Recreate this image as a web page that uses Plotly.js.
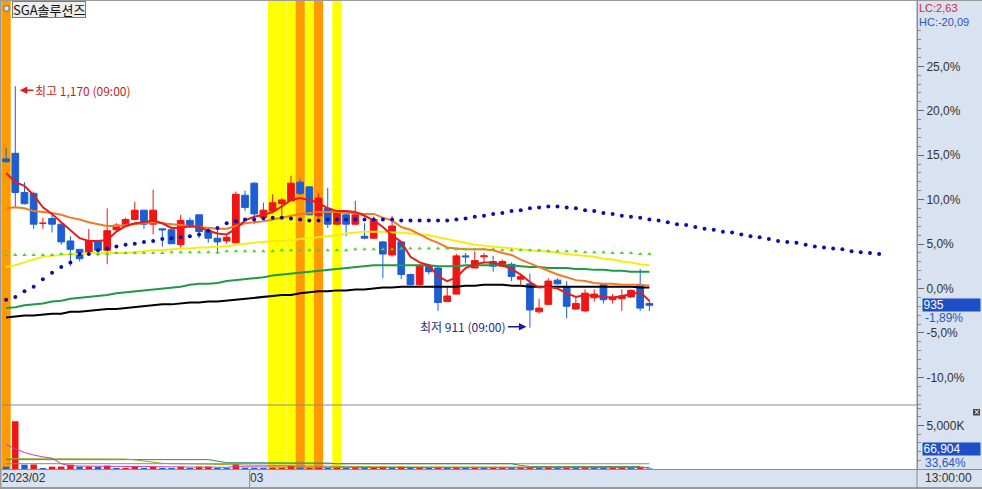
<!DOCTYPE html>
<html><head><meta charset="utf-8">
<script src="https://cdn.plot.ly/plotly-3.0.1.min.js"></script>
<style>html,body{margin:0;padding:0;background:#d8e2f0;}#chart{width:982px;height:489px;}</style>
</head><body><div id="chart"></div>
<script>
// ---------------- data ----------------
const stockName = 'SGA솔루션즈';
const baseClose = 953;            // previous close (0,0% reference)
const hiTime = '09:00', loTime = '09:00', lastTime = '13:00:00';
const xTickLabels = ['2023/02', '03'];
const monthBreakIdx = 26.5;       // boundary between Feb and Mar candles
const volRatioPct = 33.64;

const opens  = [1092,1098,1056,1055,1023,1028,1022,1004,995,991,1003,994,1016,1020,1027,1037,1022,1017,1016,1000,1026,1032,1015,1007,1004,1002,1053,1066,1029,1036,1044,1047,1067,1062,1031,1039,1022,1032,1022,1009,1007,1003,989,1003,968,957,977,975,939,947,988,975,987,982,977,979,963,958,928,936,962,955,931,929,943,957,941,942,944,957,937];
const highs  = [1104,1170,1067,1057,1029,1033,1022,1009,995,1017,1004,1039,1023,1029,1046,1037,1059,1017,1017,1032,1029,1032,1017,1019,1010,1057,1058,1067,1045,1054,1050,1074,1070,1062,1055,1061,1036,1033,1047,1023,1030,1004,1031,1004,969,979,979,977,955,990,991,993,991,988,984,981,969,969,942,964,964,961,945,952,952,958,947,952,952,974,941];
const lows   = [1088,1040,1043,1017,1017,1013,1000,977,982,989,988,979,1015,1019,1026,1017,1011,998,1001,996,1018,1007,1002,990,1001,1000,1036,1022,1028,1034,1031,1047,1053,1032,1029,1018,1021,1009,1021,1006,1006,964,987,963,956,956,968,929,939,947,980,975,980,971,976,961,957,911,926,935,957,921,930,928,939,937,937,929,943,929,929];
const closes = [1089,1056,1044,1022,1023,1022,1003,995,985,1004,994,1015,1021,1027,1037,1022,1037,1016,1001,1026,1019,1014,1007,1003,1008,1054,1040,1033,1037,1045,1048,1066,1055,1032,1050,1022,1034,1022,1032,1007,1027,990,1020,968,957,977,971,938,945,988,987,983,988,977,982,966,966,930,932,961,958,934,937,948,947,941,944,945,951,932,935];

const ma5   = [1077,1067,1063,1053,1040,1033,1024,1015,1007,1004,1004,1005,1014,1020,1023,1024,1026,1023,1018,1018,1020,1019,1015,1012,1011,1017,1026,1030,1032,1035,1041,1048,1050,1048,1045,1039,1036,1036,1035,1031,1026,1019,1010,1003,987,981,978,966,961,965,975,979,981,981,978,974,968,960,954,955,953,948,944,946,945,944,943,945,947,949,940];
const ma20  = [1039,1040,1039,1036,1035,1034,1032,1029,1027,1024,1022,1020,1020,1021,1022,1023,1024,1023,1022,1021,1020,1019,1018,1017,1017,1020,1023,1024,1025,1027,1029,1031,1033,1034,1035,1035,1035,1034,1034,1033,1033,1029,1026,1019,1016,1011,1006,1002,997,996,995,995,995,994,991,989,984,980,976,972,968,965,962,961,959,958,958,957,957,957,956];
const ma60  = [976,978,981,984,987,988,989,990,990,991,991,991,991,991,992,993,994,994,995,996,996,997,997,998,998,1000,1001,1002,1003,1004,1004,1005,1006,1007,1008,1009,1010,1012,1013,1014,1014,1014,1013,1013,1012,1011,1010,1008,1006,1004,1002,1000,999,998,997,996,995,994,993,993,991,990,989,988,987,985,984,982,981,979,978];
const ma120 = [932,933,935,936,937,939,940,942,943,944,945,946,948,949,950,951,952,953,954,955,957,958,958,959,961,962,963,964,965,967,968,969,970,971,972,973,974,975,976,977,978,978,978,978,978,978,978,977,977,977,978,978,978,978,978,978,977,976,976,975,975,975,974,974,973,973,972,972,971,971,971];
const ma240 = [922,923,924,924,925,926,926,928,928,929,930,931,931,932,933,934,935,936,936,937,938,938,939,939,940,941,942,943,944,945,946,946,948,949,950,950,951,951,952,952,953,954,954,955,955,955,955,955,955,955,956,956,957,957,957,956,956,955,955,955,955,955,955,955,955,955,955,955,955,954,954];
const baseLine = [989,989,989,989,989,989,990,990,990,990,990,990,991,991,991,991,991,991,992,992,992,992,992,992,993,993,993,993,993,993,994,994,994,994,994,994,994,994,995,995,995,995,995,996,996,996,996,996,996,995,995,995,995,995,994,994,994,994,994,993,993,993,993,992,992,992,991,991,991,990,990];
// leading span (shifted 26 periods forward)
const spanLead = [941,944,950,955,963,970,976,981,990,990,994,996,998,1000,1001,1003,1004,1006,1007,1008,1009,1011,1015,1018,1023,1025,1027,1027,1028,1029,1029,1028,1027,1026,1026,1027,1027,1027,1027,1027,1027,1027,1027,1026,1026,1026,1026,1026,1026,1027,1028,1030,1031,1033,1034,1036,1037,1039,1040,1041,1041,1040,1039,1037,1036,1034,1033,1031,1030,1029,1027,1026,1024,1022,1021,1019,1017,1016,1014,1013,1011,1009,1008,1006,1004,1003,1002,1000,998,997,996,995,993,992,991,990];

const volume = [260000,5490000,500000,520000,120000,270000,280000,500000,270000,290000,260000,390000,120000,130000,270000,120000,270000,130000,110000,270000,120000,260000,280000,120000,110000,580000,140000,130000,120000,140000,150000,380000,120000,130000,150000,140000,160000,130000,150000,120000,140000,270000,140000,280000,130000,150000,120000,160000,140000,170000,130000,150000,120000,140000,150000,130000,140000,210000,150000,170000,120000,160000,130000,150000,140000,130000,140000,150000,120000,270000,66904];
const volMa5  = [2830000,2300000,1900000,1600000,1400000,1250000,600000,380000,340000,330000,320000,300000,280000,250000,240000,230000,220000,200000,190000,200000,190000,200000,210000,200000,190000,260000,250000,240000,230000,250000,220000,190000,190000,180000,170000,150000,150000,150000,140000,140000,150000,170000,180000,190000,200000,190000,170000,150000,150000,150000,150000,150000,150000,140000,140000,140000,140000,150000,160000,160000,160000,160000,150000,150000,150000,140000,140000,140000,140000,160000,150000];
const volMa20 = [1190000,1190000,1190000,1190000,1190000,1190000,1190000,1190000,1190000,1190000,1190000,1190000,1190000,1150000,1050000,900000,760000,650000,610000,610000,610000,610000,560000,520000,480000,450000,440000,430000,420000,400000,380000,360000,340000,320000,300000,290000,280000,270000,260000,250000,250000,250000,250000,250000,250000,250000,260000,260000,270000,270000,270000,270000,280000,280000,290000,290000,290000,290000,290000,290000,290000,280000,270000,260000,250000,240000,230000,220000,210000,200000,200000];
const volMa60 = [1075000,1075000,1075000,1075000,1075000,1075000,1075000,1075000,1075000,1075000,1075000,1075000,1075000,1075000,1075000,1075000,1075000,1075000,1075000,1075000,1075000,1075000,1075000,900000,720000,720000,720000,720000,720000,720000,720000,720000,720000,720000,720000,680000,610000,610000,610000,610000,610000,610000,610000,610000,610000,610000,610000,610000,610000,610000,610000,610000,610000,610000,610000,610000,400000,290000,290000,290000,290000,290000,290000,290000,290000,290000,290000,290000,290000,290000];
const volMa120 = [610000,610000,610000,610000,610000,610000,610000,610000,610000,610000,610000,610000,610000,610000,610000,610000,610000,610000,610000,610000,610000,610000,610000,610000,610000,610000,610000,610000,610000,610000,610000,610000,610000,610000,610000,610000,600000,600000,600000,600000,600000,600000,600000,600000,600000,600000,600000,600000,600000,600000,600000,600000,600000,600000,600000,600000,600000,600000,600000,600000,600000,600000,600000,600000,600000,600000,600000,600000,600000,600000,600000];

const yellowIdx = [29,30,31,33,36];
const orangeIdx = [0,32,34];
const pctTicks = [25,20,15,10,5,0,-5,-10];
const volTicks = [5000000];
const volTickText = ['5,000K'];

// ---------------- geometry ----------------
const W = 982, H = 489, ML = 2, MR = 65, MT = 1, MB = 20;
const PW = W - ML - MR, PH = H - MT - MB;
const pX = px => (px - ML) / PW;
const pY = py => (H - MB - py) / PH;
const xRange = [-0.446, 99.12];
const xP = i => (i - xRange[0]) / (xRange[1] - xRange[0]);
const split = pY(405);

const N = opens.length;
const idx = opens.map((_, i) => i);
const leadIdx = spanLead.map((_, i) => i);
const comma = (v, d) => v.toFixed(d).replace('.', ',');
const fmt = n => n.toLocaleString('en-US');

const RED = '#f01414', BLUE = '#1d5ed2';
const volColors = volume.map((v, i) => (i > 0 && v > volume[i - 1]) ? RED : BLUE);

const line = (y, color, w, extra) => Object.assign({
  type: 'scatter', mode: 'lines', x: idx, y: y, xaxis: 'x', yaxis: 'y',
  line: {color: color, width: w}, hoverinfo: 'skip', showlegend: false
}, extra || {});

const traces = [
  line(ma240, '#000000', 2),
  line(ma120, '#1e9a46', 2),
  line(ma60, '#f7ec12', 2),
  line(ma20, '#f27a22', 2),
  {type: 'scatter', mode: 'markers', x: idx, y: baseLine, xaxis: 'x', yaxis: 'y',
   marker: {color: '#4fd12e', size: 4, symbol: 'triangle-up'}, hoverinfo: 'skip', showlegend: false},
  {type: 'candlestick', x: idx, open: opens, high: highs, low: lows, close: closes,
   xaxis: 'x', yaxis: 'y', whiskerwidth: 0, hoverinfo: 'skip', showlegend: false,
   increasing: {line: {color: RED, width: 1}, fillcolor: RED},
   decreasing: {line: {color: BLUE, width: 1}, fillcolor: BLUE}},
  line(ma5, '#e61c1c', 2),
  {type: 'scatter', mode: 'markers', x: leadIdx, y: spanLead, xaxis: 'x', yaxis: 'y',
   marker: {color: '#0d0fa6', size: 4}, hoverinfo: 'skip', showlegend: false},
  {type: 'bar', x: idx, y: volume, xaxis: 'x', yaxis: 'y2', width: 0.7,
   marker: {color: volColors, line: {width: 0}}, hoverinfo: 'skip', showlegend: false},
  line(volMa120, '#8a8a8a', 1, {yaxis: 'y2'}),
  line(volMa60, '#2a8a6a', 1, {yaxis: 'y2'}),
  line(volMa20, '#9aaa1c', 1, {yaxis: 'y2'}),
  line(volMa5, '#c43cc4', 1, {yaxis: 'y2'})
];

// ---------------- shapes ----------------
const shapes = [];
yellowIdx.forEach(i => shapes.push({type: 'rect', xref: 'x', yref: 'paper', x0: i - 0.5, x1: i + 0.5, y0: 0, y1: 1,
  fillcolor: '#ffff00', line: {width: 0}, layer: 'below'}));
orangeIdx.forEach(i => shapes.push({type: 'rect', xref: 'x', yref: 'paper', x0: i - 0.5, x1: i + 0.5, y0: 0, y1: 1,
  fillcolor: '#ff9a00', line: {width: 0}, layer: 'below'}));
const G = '#8c8c8c';
const hl = (py, w, c) => ({type: 'line', xref: 'paper', yref: 'paper', x0: pX(0), x1: pX(W), y0: pY(py), y1: pY(py), line: {color: c || G, width: w || 1}});
shapes.push({type: 'line', xref: 'paper', yref: 'paper', x0: 0, x1: 1, y0: split, y1: split, line: {color: G, width: 1}});
shapes.push(hl(469.5));
shapes.push(hl(488, 2, '#9a9a9a'));
shapes.push(hl(0.5, 1, '#9a9a9a'));
shapes.push({type: 'line', xref: 'paper', yref: 'paper', x0: pX(0.5), x1: pX(0.5), y0: pY(489), y1: pY(0), line: {color: '#9a9a9a', width: 2}});
shapes.push({type: 'line', xref: 'paper', yref: 'paper', x0: xP(monthBreakIdx), x1: xP(monthBreakIdx), y0: pY(469), y1: pY(488), line: {color: G, width: 1}});
shapes.push({type: 'line', xref: 'paper', yref: 'paper', x0: 1, x1: 1, y0: pY(489), y1: pY(0), line: {color: G, width: 1}});
shapes.push({type: 'rect', xref: 'paper', yref: 'paper', x0: pX(4), x1: pX(9), y0: pY(11), y1: pY(6), fillcolor: '#e6e6e6', line: {color: '#707070', width: 1}});
shapes.push({type: 'rect', xref: 'paper', yref: 'paper', x0: pX(973), x1: pX(980), y0: pY(415.5), y1: pY(409), fillcolor: '#4a4a4a', line: {width: 0}});

// ---------------- annotations ----------------
const last = N - 1;
const hiIdx = highs.indexOf(Math.max(...highs));
const loIdx = lows.indexOf(Math.min(...lows));
const LC = (closes[last] / lows[loIdx] - 1) * 100;
const HC = (closes[last] / highs[hiIdx] - 1) * 100;
const chg = (closes[last] / baseClose - 1) * 100;
const KR = 'Noto Sans CJK KR, Liberation Sans, sans-serif';
const NUM = 'Liberation Sans, Arial, sans-serif';
const txt = (t, px, py, color, extra) => Object.assign({
  text: t, xref: 'paper', yref: 'paper', x: pX(px), y: pY(py), xanchor: 'left', yanchor: 'middle',
  showarrow: false, font: {family: NUM, size: 12, color: color}
}, extra || {});

const annotations = [
  txt(stockName, 12, 9, '#111', {bgcolor: '#eeeeee', bordercolor: '#7a7a7a', borderwidth: 1, borderpad: 0,
    font: {family: KR, size: 13, color: '#111'}, height: 15}),
  txt('<span style="color:#d42a2a">LC:' + comma(LC, 2) + '</span><br><span style="color:#2a55c0">HC:' + comma(HC, 2) + '</span>',
    918, 0.5, '#2a55c0', {yanchor: 'top', align: 'left', borderpad: 0, font: {family: NUM, size: 11, color: '#2a55c0'}}),
  {text: String(closes[last]), xref: 'paper', yref: 'y', x: pX(922), y: closes[last], xanchor: 'left', yanchor: 'middle',
   showarrow: false, bgcolor: '#1f4fc6', width: 56, height: 11, align: 'left', borderpad: 0.5,
   font: {family: NUM, size: 12, color: '#ffffff'}},
  {text: comma(chg, 2) + '%', xref: 'paper', yref: 'y', x: pX(923), y: closes[last], yshift: -13, xanchor: 'left', yanchor: 'middle',
   showarrow: false, font: {family: NUM, size: 12, color: '#2a55c0'}},
  txt(fmt(volume[last]), 922, 449, '#ffffff', {bgcolor: '#1f4fc6', width: 56, height: 11, align: 'left', borderpad: 0.5}),
  txt(comma(volRatioPct, 2) + '%', 923, 462.5, '#2a55c0'),
  txt(lastTime, 923, 478.5, '#333333'),
  txt('×', 976.5, 412, '#ffffff', {xanchor: 'center', font: {family: NUM, size: 9, color: '#ffffff'}}),
  {text: '최고 ' + fmt(highs[hiIdx]) + ' (' + hiTime + ')', xref: 'x', yref: 'y', x: hiIdx, y: highs[hiIdx],
   xshift: 4.5, yshift: -4, ax: 63, ay: 0, showarrow: true, arrowhead: 2, arrowsize: 1, arrowwidth: 1.5,
   arrowcolor: '#e01818', font: {family: KR, size: 12, color: '#c81e1e'}},
  {text: '최저 ' + fmt(lows[loIdx]) + ' (' + loTime + ')', xref: 'x', yref: 'y', x: loIdx, y: lows[loIdx],
   xshift: -3.5, yshift: 1, ax: -63, ay: 0, showarrow: true, arrowhead: 2, arrowsize: 1, arrowwidth: 1.5,
   arrowcolor: '#1a1aa0', font: {family: KR, size: 12, color: '#1f2a8a'}}
];

// ---------------- axes ----------------
const mainTickVals = pctTicks.map(p => baseClose * (1 + p / 100));
const mainTickText = pctTicks.map(p => comma(p, 1) + '%');
const minorVals = [];
for (let p = -13; p <= 29; p++) minorVals.push(baseClose * (1 + p / 100));
const volMinor = [1000000, 2000000, 3000000, 4000000, 6000000, 7000000];

const layout = {
  width: W, height: H,
  margin: {l: ML, r: MR, t: MT, b: MB, pad: 0},
  paper_bgcolor: '#d8e2f0', plot_bgcolor: '#ffffff',
  showlegend: false, boxgap: 0.27, boxgroupgap: 0, bargap: 0.3,
  font: {family: NUM, size: 12, color: '#333'},
  xaxis: {domain: [0, 1], anchor: 'y2', range: xRange, fixedrange: true, showgrid: false, zeroline: false,
    showline: false, rangeslider: {visible: false}, tickmode: 'array',
    tickvals: [xRange[0] + 0.01, monthBreakIdx + 0.05], ticktext: xTickLabels,
    ticks: '', ticklabelposition: 'outside right', tickfont: {family: NUM, size: 12, color: '#333'}},
  yaxis: {domain: [split, 1], anchor: 'x', side: 'right', range: [828.1, 1261.3], fixedrange: true,
    showgrid: false, zeroline: false, showline: true, linecolor: '#8c8c8c', linewidth: 1,
    tickmode: 'array', tickvals: mainTickVals, ticktext: mainTickText,
    ticks: 'outside', ticklen: 6, tickcolor: '#6a6a6a', tickwidth: 1,
    tickfont: {family: NUM, size: 12, color: '#333'},
    minor: {tickmode: 'array', tickvals: minorVals, ticks: 'outside', ticklen: 3, tickcolor: '#8a8a8a', showgrid: false}},
  yaxis2: {domain: [0, split], anchor: 'x', side: 'right', range: [0, 7360000], fixedrange: true,
    showgrid: false, zeroline: false, showline: true, linecolor: '#8c8c8c', linewidth: 1,
    tickmode: 'array', tickvals: volTicks, ticktext: volTickText,
    ticks: 'outside', ticklen: 6, tickcolor: '#6a6a6a', tickwidth: 1,
    tickfont: {family: NUM, size: 12, color: '#333'},
    minor: {tickmode: 'array', tickvals: volMinor, ticks: 'outside', ticklen: 3, tickcolor: '#8a8a8a', showgrid: false}},
  shapes: shapes,
  annotations: annotations
};

Plotly.newPlot('chart', traces, layout, {displayModeBar: false, staticPlot: true});
</script>
</body></html>
